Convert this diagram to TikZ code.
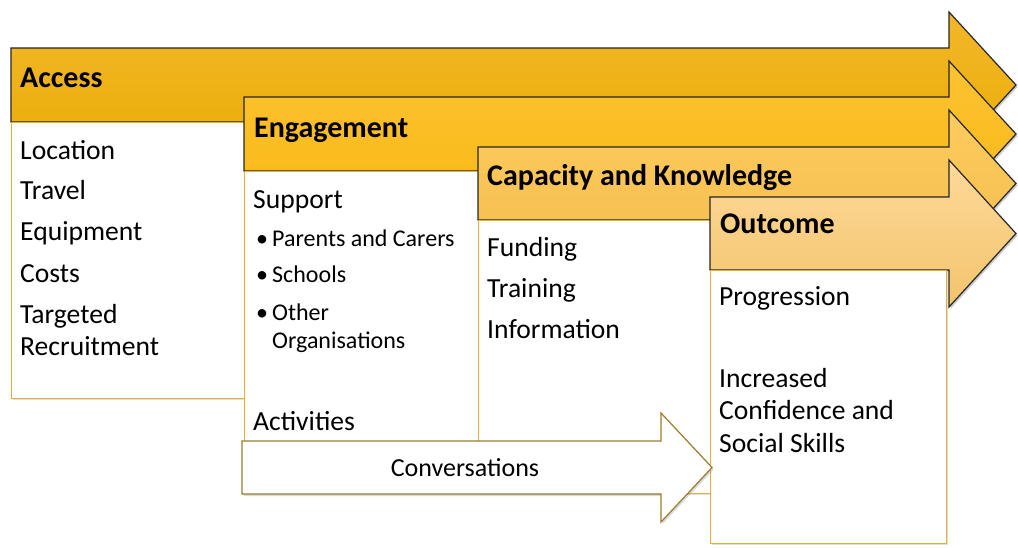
\documentclass[tikz,border=0pt]{standalone}
\usepackage{fontspec}
\setmainfont{Carlito}
\usetikzlibrary{shadows}
\definecolor{accAtop}{HTML}{F2B72A}
\definecolor{accAbot}{HTML}{EBAD05}
\definecolor{engAtop}{HTML}{FCC232}
\definecolor{engAbot}{HTML}{F9B915}
\definecolor{capAtop}{HTML}{FECB5E}
\definecolor{capAbot}{HTML}{F4BE4E}
\definecolor{outAtop}{HTML}{FED99A}
\definecolor{outAbot}{HTML}{F3C46C}
\definecolor{boxgold}{HTML}{E3B232}
\definecolor{convgold}{HTML}{9A7D2C}
\tikzset{
  bigarrow/.style={draw=black!85, line width=1.2pt, line join=miter,
    drop shadow={opacity=0.4, shadow xshift=1.5pt, shadow yshift=-2pt}},
  panel/.style={draw=boxgold, fill=white, line width=0.8pt,
    drop shadow={opacity=0.25, shadow xshift=1.5pt, shadow yshift=-2pt}},
  convarrow/.style={draw=convgold, fill=white, line width=1.2pt, line join=miter,
    drop shadow={opacity=0.3, shadow xshift=1.5pt, shadow yshift=-2pt}},
  heading/.style={anchor=base west, inner sep=0pt, font=\fontsize{30}{36}\selectfont\bfseries},
  itemtext/.style={anchor=base west, inner sep=0pt, font=\fontsize{27.6}{32}\selectfont},
  subtext/.style={anchor=base west, inner sep=0pt, font=\fontsize{24}{28}\selectfont},
}
\begin{document}
\begin{tikzpicture}[x=1pt, y=-1pt]
\useasboundingbox (0,0) rectangle (1018,547);

% Access
\path[bigarrow, top color=accAtop, bottom color=accAbot]
  (11,48) -- (949,48) -- (949,12) -- (1016,85) -- (949,158) -- (949,122) -- (11,122) -- cycle;
\node[heading] (accessh) at (20,87) {Access};
\path[panel] (11,122) rectangle (245,398);
\node[itemtext] (loc) at (20,159) {Location};
\node[itemtext] (trav) at (20,199) {Travel};
\node[itemtext] (equip) at (20,240) {Equipment};
\node[itemtext] (costs) at (20,282) {Costs};
\node[itemtext] (targ) at (20,323) {Targeted};
\node[itemtext] (recr) at (20,355) {Recruitment};

% Engagement
\path[bigarrow, top color=engAtop, bottom color=engAbot]
  (244,97) -- (949,97) -- (949,61) -- (1016,134) -- (949,207) -- (949,171) -- (244,171) -- cycle;
\node[heading] (engh) at (254,137) {Engagement};
\path[panel] (244,171) rectangle (478,480);
\node[itemtext] (supp) at (253,208) {Support};
\node[subtext] (b1) at (256,246) {•};
\node[subtext] (par) at (272,246) {Parents and Carers};
\node[subtext] (b2) at (256,282) {•};
\node[subtext] (sch) at (272,282) {Schools};
\node[subtext] (b3) at (256,320) {•};
\node[subtext] (oth) at (272,320) {Other};
\node[subtext] (org) at (272,348) {Organisations};
\node[itemtext] (act) at (253,430) {Activities};

% Capacity and Knowledge
\path[bigarrow, top color=capAtop, bottom color=capAbot]
  (478,147) -- (949,147) -- (949,110) -- (1016,183.5) -- (949,257) -- (949,220) -- (478,220) -- cycle;
\node[heading] (caph) at (487,185) {Capacity and Knowledge};
\path[panel] (478,220) rectangle (710,493);
\node[itemtext] (fund) at (487,256) {Funding};
\node[itemtext] (train) at (487,297) {Training};
\node[itemtext] (info) at (487,338) {Information};

% Outcome
\path[bigarrow, top color=outAtop, bottom color=outAbot]
  (710,197) -- (949,197) -- (949,160) -- (1016,233.5) -- (949,307) -- (949,270) -- (710,270) -- cycle;
\node[heading] (outh) at (720,233) {Outcome};
\path[panel] (710,270) rectangle (946,543);
\node[itemtext] (prog) at (719,305) {Progression};
\node[itemtext] (incr) at (719,387) {Increased};
\node[itemtext] (conf) at (719,419) {Confidence and};
\node[itemtext] (soc) at (719,452) {Social Skills};

% Conversations
\path[convarrow]
  (242,441) -- (661,441) -- (661,413) -- (712,467.5) -- (661,522) -- (661,494) -- (242,494) -- cycle;
\node[anchor=base, inner sep=0pt, font=\fontsize{26}{31}\selectfont] (conv) at (465,476) {Conversations};
\end{tikzpicture}
\end{document}
